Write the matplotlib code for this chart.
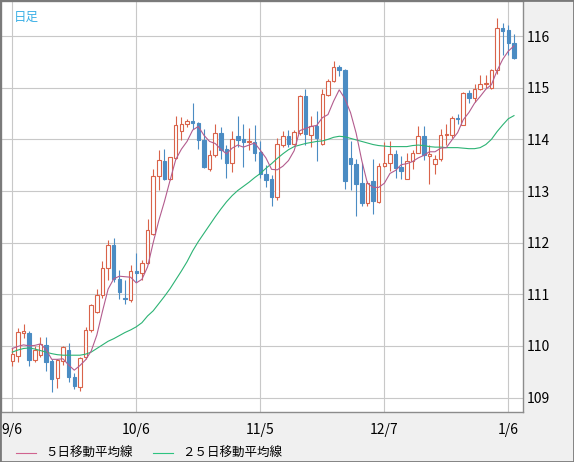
import matplotlib.pyplot as plt
from matplotlib.lines import Line2D
from matplotlib.patches import Rectangle

plt.rcParams['font.family'] = ['Noto Sans CJK JP', 'DejaVu Sans']

# daily candles, 2021/9/6 .. 2022/1/7
opens = [109.71, 109.81, 110.25, 110.25, 109.72, 109.82, 110.01, 109.70, 109.37, 109.71,
         109.92, 109.40, 109.21, 109.79, 110.30, 110.66, 110.98, 111.50, 111.95, 111.29,
         110.93, 110.88, 111.46, 111.42, 111.61, 112.17, 113.29, 113.59, 113.23, 113.64,
         114.17, 114.30, 114.35, 114.32, 113.98, 113.43, 113.70, 114.13, 113.81, 113.55,
         114.06, 114.01, 113.94, 113.95, 113.75, 113.33, 113.23, 112.88, 113.90, 114.06,
         113.91, 114.12, 114.84, 114.08, 114.26, 113.92, 114.86, 115.14, 115.41, 115.34,
         113.64, 113.52, 113.15, 112.77, 113.19, 112.78, 113.49, 113.54, 113.71, 113.46,
         113.23, 113.59, 113.74, 114.06, 113.67, 113.52, 113.62, 114.08, 114.09, 114.42,
         114.28, 114.89, 114.81, 114.98, 115.07, 115.00, 115.35, 116.15, 116.12, 115.86]
highs = [109.96, 110.34, 110.42, 110.28, 110.00, 110.17, 110.17, 109.75, 109.75, 110.00,
         110.06, 109.48, 109.79, 110.37, 110.81, 111.11, 111.65, 112.06, 112.09, 111.47,
         111.28, 111.57, 111.79, 111.66, 112.45, 113.42, 113.79, 113.81, 113.66, 114.45,
         114.43, 114.40, 114.71, 114.34, 114.21, 113.79, 114.30, 114.24, 113.90, 114.17,
         114.45, 114.30, 114.22, 114.28, 113.97, 113.50, 113.31, 114.02, 114.16, 114.19,
         114.19, 114.86, 114.98, 114.45, 114.54, 114.97, 115.17, 115.52, 115.45, 115.37,
         113.96, 113.62, 113.54, 113.19, 113.62, 113.54, 113.94, 113.96, 113.80, 113.67,
         113.73, 113.80, 114.25, 114.25, 113.90, 113.70, 114.21, 114.30, 114.46, 114.50,
         114.91, 114.96, 115.07, 115.24, 115.24, 115.37, 116.36, 116.25, 116.21, 116.04]
lows = [109.61, 109.69, 110.15, 109.61, 109.69, 109.79, 109.51, 109.11, 109.19, 109.63,
        109.30, 109.17, 109.13, 109.75, 110.27, 110.63, 110.92, 111.27, 111.24, 110.90,
        110.82, 110.86, 111.24, 111.27, 111.58, 112.14, 113.01, 113.21, 113.21, 113.62,
        113.99, 114.24, 114.21, 113.82, 113.44, 113.38, 113.66, 113.62, 113.25, 113.37,
        113.85, 113.46, 113.79, 113.59, 113.26, 113.08, 112.71, 112.83, 113.86, 113.86,
        113.89, 114.08, 113.90, 113.86, 113.58, 113.90, 114.84, 115.11, 115.22, 113.04,
        113.01, 112.52, 112.70, 112.70, 112.55, 112.77, 113.47, 113.38, 113.25, 113.23,
        113.23, 113.43, 113.73, 113.60, 113.14, 113.33, 113.58, 113.90, 114.02, 114.30,
        114.27, 114.70, 114.72, 114.95, 115.00, 114.98, 115.27, 115.63, 115.63, 115.55]
closes = [109.85, 110.26, 110.28, 109.72, 109.92, 110.03, 109.69, 109.35, 109.72, 109.97,
          109.40, 109.22, 109.77, 110.30, 110.79, 110.98, 111.50, 111.95, 111.29, 111.05,
          110.90, 111.46, 111.41, 111.61, 112.25, 113.29, 113.61, 113.23, 113.65, 114.28,
          114.30, 114.35, 114.32, 113.99, 113.46, 113.69, 114.13, 113.79, 113.54, 114.01,
          113.99, 113.94, 113.97, 113.74, 113.32, 113.21, 112.88, 113.91, 114.06, 113.91,
          114.15, 114.84, 114.10, 114.26, 114.02, 114.87, 115.14, 115.41, 115.34, 113.19,
          113.52, 113.14, 112.76, 113.15, 112.80, 113.48, 113.54, 113.71, 113.45, 113.38,
          113.59, 113.74, 114.06, 113.69, 113.71, 113.62, 114.09, 114.11, 114.42, 114.39,
          114.89, 114.80, 114.98, 115.07, 115.09, 115.35, 116.15, 116.10, 115.86, 115.57]

ma5 = [109.95, 109.99, 110.02, 110.00, 110.01, 110.04, 109.93, 109.74, 109.74, 109.75,
       109.63, 109.53, 109.62, 109.73, 109.90, 110.21, 110.67, 111.10, 111.30, 111.35,
       111.34, 111.33, 111.22, 111.29, 111.53, 112.00, 112.43, 112.80, 113.21, 113.61,
       113.81, 113.96, 114.18, 114.25, 114.08, 113.96, 113.92, 113.81, 113.72, 113.83,
       113.89, 113.85, 113.89, 113.93, 113.79, 113.64, 113.42, 113.41, 113.48, 113.59,
       113.78, 114.17, 114.21, 114.25, 114.27, 114.42, 114.48, 114.74, 114.96, 114.79,
       114.52, 114.12, 113.59, 113.15, 113.07, 113.07, 113.15, 113.34, 113.40, 113.51,
       113.53, 113.57, 113.64, 113.69, 113.76, 113.76, 113.83, 113.84, 113.99, 114.13,
       114.38, 114.52, 114.70, 114.83, 114.97, 115.06, 115.33, 115.55, 115.71, 115.81]
ma25 = [109.88, 109.92, 109.95, 109.96, 109.94, 109.91, 109.88, 109.85, 109.83, 109.82,
        109.82, 109.82, 109.82, 109.84, 109.88, 109.95, 110.02, 110.09, 110.14, 110.20,
        110.26, 110.31, 110.37, 110.45, 110.58, 110.68, 110.82, 110.96, 111.11, 111.28,
        111.45, 111.63, 111.84, 112.02, 112.18, 112.34, 112.50, 112.65, 112.79, 112.91,
        113.01, 113.09, 113.17, 113.26, 113.34, 113.44, 113.53, 113.63, 113.72, 113.80,
        113.86, 113.89, 113.92, 113.94, 113.96, 113.97, 114.00, 114.04, 114.06, 114.05,
        114.02, 113.99, 113.96, 113.93, 113.90, 113.88, 113.87, 113.86, 113.86, 113.86,
        113.86, 113.88, 113.89, 113.88, 113.86, 113.85, 113.85, 113.84, 113.84, 113.84,
        113.83, 113.82, 113.82, 113.84, 113.90, 114.00, 114.15, 114.28, 114.40, 114.46]

date_pos = [0, 22, 44, 66, 88]
date_labels = ['9/6', '10/6', '11/5', '12/7', '1/6']
price_ticks = [109, 110, 111, 112, 113, 114, 115, 116]

up_color = '#d9634a'
down_color = '#4b8cc3'
ma5_color = '#b35c8e'
ma25_color = '#2cb374'

fig = plt.figure(figsize=(5.74, 4.62), dpi=100, facecolor='#f0f0f0')
ax = fig.add_axes([1 / 574, 50 / 462, 522 / 574, 411 / 462])
ax.set_facecolor('white')

x = list(range(len(closes)))
for i in x:
    o, h, l, c = opens[i], highs[i], lows[i], closes[i]
    col = up_color if c >= o else down_color
    ax.vlines(i, l, h, color=col, linewidth=0.8, zorder=2)
    bottom = min(o, c)
    height = max(abs(c - o), 0.025)
    if c >= o:
        ax.bar(i, height, 0.62, bottom=bottom, facecolor='white', edgecolor=col,
               linewidth=0.8, zorder=3)
    else:
        ax.bar(i, height, 0.62, bottom=bottom, facecolor=col, edgecolor=col,
               linewidth=0.8, zorder=3)

ax.plot(x, ma25, color=ma25_color, linewidth=0.8, zorder=4)
ax.plot(x, ma5, color=ma5_color, linewidth=0.8, zorder=4)

ax.set_xlim(-2.0, 90.6)
ax.set_ylim(108.72, 116.68)
ax.set_xticks(date_pos)
ax.set_xticklabels(date_labels)
ax.set_yticks(price_ticks)
ax.set_yticklabels([str(p) for p in price_ticks])
ax.yaxis.tick_right()
ax.tick_params(axis='both', length=0, labelsize=10, colors='black')
ax.tick_params(axis='x', pad=8)
ax.tick_params(axis='y', pad=3)
ax.grid(True, color='#c8c8c8', linewidth=0.8)
ax.set_axisbelow(True)
for s in ax.spines.values():
    s.set_color('#8c8c8c')
    s.set_linewidth(1)

ax.text(0.024, 0.975, '日足', transform=ax.transAxes, color='#3cb0e6',
        fontsize=9, va='top', ha='left')

# legend row at the bottom
ly = 1 - 453 / 462
fig.add_artist(Line2D([16 / 574, 36 / 574], [ly, ly], color='#d0638f', linewidth=0.8))
fig.text(45 / 574, ly, '５日移動平均線', fontsize=9, va='center', ha='left')
fig.add_artist(Line2D([153 / 574, 173 / 574], [ly, ly], color='#2cc380', linewidth=0.8))
fig.text(182 / 574, ly, '２５日移動平均線', fontsize=9, va='center', ha='left')

fig.add_artist(Rectangle((0, 0), 1, 1, transform=fig.transFigure, fill=False,
                         edgecolor='#7a7a7a', linewidth=2))

fig.savefig('out.png', dpi=100, facecolor=fig.get_facecolor())
